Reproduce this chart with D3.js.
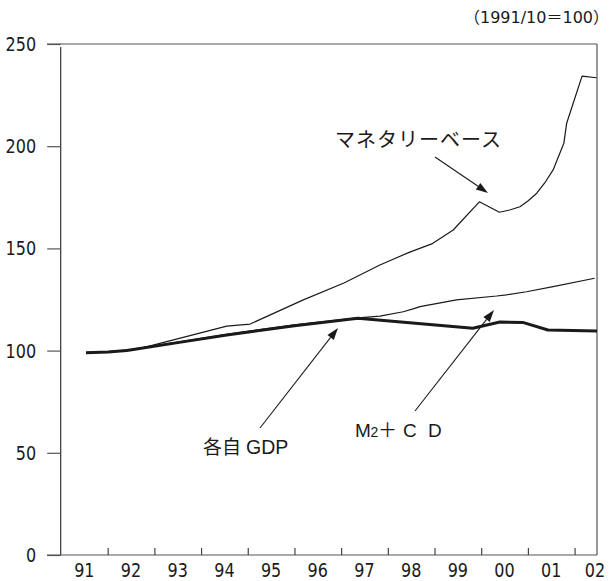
<!DOCTYPE html>
<html><head><meta charset="utf-8">
<script src="https://cdn.jsdelivr.net/npm/d3@7"></script>
<style>body{margin:0;background:#fff}svg{display:block}</style>
</head><body>
<svg id="c" width="611" height="581"></svg>
<script>
// fiscal-year time axis (decimal), index 1991/10 = 100
const yearLabels = ["91","92","93","94","95","96","97","98","99","00","01","02"];
const yTicks = [0, 50, 100, 150, 200, 250];

const gdpT = [1991.535, 1992.01, 1992.41, 1993.5, 1994.55, 1996.0, 1997.36, 1999.82, 2000.40, 2000.89, 2001.43, 2002.48];
const gdpV = [99.0, 99.3, 100.0, 103.9, 107.6, 112.2, 115.8, 110.9, 114.0, 113.8, 110.1, 109.6];

const m2T = [1991.535, 1992.01, 1992.41, 1993.5, 1994.55, 1996.0, 1997.36, 1997.83, 1998.33, 1998.54, 1998.69, 1999.47, 2000.33, 2000.54, 2000.97, 2001.54, 2002.43];
const m2V = [99.0, 99.4, 100.2, 104.2, 108.0, 112.6, 116.0, 116.9, 119.0, 120.4, 121.5, 124.8, 126.7, 127.3, 128.8, 131.3, 135.4];

const mbT = [1991.535, 1992.01, 1992.62, 1994.55, 1995.05, 1996.19, 1997.06, 1997.83, 1998.47, 1998.94, 1999.40, 1999.96, 2000.39, 2000.61, 2000.83, 2001.0, 2001.19, 2001.36, 2001.54, 2001.77, 2001.83, 2001.97, 2002.16, 2002.47];
const mbV = [99.0, 99.5, 100.6, 112.0, 113.0, 124.8, 133.1, 141.9, 148.2, 152.2, 159.0, 172.8, 167.7, 168.8, 170.4, 173.2, 177.0, 182.0, 188.4, 201.4, 211.2, 221.0, 234.3, 233.5];

const svg = d3.select("#c");
const x = d3.scaleLinear().domain([1991, 2002.48]).range([61, 597]);
const y = d3.scaleLinear().domain([0, 250]).range([555, 44]);
const numFont = "'DejaVu Sans', sans-serif";
const latFont = "'Liberation Sans', Arial, sans-serif";
const jpFont = "'Noto Sans CJK JP', sans-serif";
const digitW = 10.2;

// frame
svg.append("line").attr("x1", 47).attr("x2", 597).attr("y1", y(250)).attr("y2", y(250)).attr("stroke", "#555").attr("stroke-width", 1.2);
svg.append("line").attr("x1", 597).attr("x2", 597).attr("y1", y(250)).attr("y2", y(0)).attr("stroke", "#555").attr("stroke-width", 1.2);

// y axis
const yAxis = d3.axisLeft(y).tickValues(yTicks).tickSize(13.5).tickPadding(11);
const gy = svg.append("g").attr("transform", "translate(60.7,0)").call(yAxis);
gy.select(".domain").attr("d", `M0,${y(250)+3}V${y(0)}`).attr("stroke", "#333").attr("stroke-width", 1.2);
gy.selectAll(".tick line").attr("stroke", "#555").attr("stroke-width", 1.2);
gy.selectAll(".tick text").attr("font-family", numFont).attr("font-size", 19.5).attr("fill", "#1a1a1a").attr("dy", "0.33em")
  .attr("textLength", d => String(d).length * digitW).attr("lengthAdjust", "spacingAndGlyphs");

// x axis
const years = d3.range(1992, 2003);
const xAxis = d3.axisBottom(x).tickValues(years).tickSize(-7).tickFormat("");
const gx = svg.append("g").attr("transform", `translate(0,${y(0)})`).call(xAxis);
gx.select(".domain").attr("d", `M47,0H597`).attr("stroke", "#555").attr("stroke-width", 1.2);
gx.selectAll(".tick line").attr("stroke", "#444").attr("stroke-width", 1.2);
svg.append("g").selectAll("text").data(yearLabels).join("text")
  .attr("x", (d, i) => Math.min(x(1991 + i + 0.5), 595))
  .attr("y", 577).attr("text-anchor", "middle")
  .attr("font-family", numFont).attr("font-size", 19.5).attr("fill", "#1a1a1a")
  .attr("textLength", d => d.length * digitW).attr("lengthAdjust", "spacingAndGlyphs")
  .text(d => d);

// unit note
svg.append("text").attr("x", 609).attr("y", 23).attr("text-anchor", "end")
  .attr("font-family", "'DejaVu Sans', 'Noto Sans CJK JP', sans-serif").attr("font-size", 16).attr("fill", "#1a1a1a")
  .text("（1991/10＝100）");

// lines
const line = d3.line().x(d => x(d[0])).y(d => y(d[1]));
const series = [
  {t: mbT, v: mbV, w: 1.2},
  {t: m2T, v: m2V, w: 1.2},
  {t: gdpT, v: gdpV, w: 3}
];
series.forEach(s => {
  svg.append("path").datum(s.t.map((t, i) => [t, s.v[i]]))
    .attr("d", line).attr("fill", "none").attr("stroke", "#1a1a1a")
    .attr("stroke-width", s.w).attr("stroke-linejoin", "round");
});

// annotations with arrows
function arrow(x1, y1, x2, y2) {
  const ang = Math.atan2(y2 - y1, x2 - x1), L = 12, W = 4;
  const bx = x2 - L * Math.cos(ang), by = y2 - L * Math.sin(ang);
  svg.append("line").attr("x1", x1).attr("y1", y1).attr("x2", bx).attr("y2", by)
    .attr("stroke", "#1a1a1a").attr("stroke-width", 1.1);
  const px = -Math.sin(ang) * W, py = Math.cos(ang) * W;
  svg.append("path").attr("d", `M${x2},${y2}L${bx + px},${by + py}L${bx - px},${by - py}Z`).attr("fill", "#1a1a1a");
}
arrow(435, 157, 488, 193);
arrow(260, 428, 338, 328);
arrow(415, 411, 494, 310);

svg.append("text").attr("x", 335).attr("y", 147).attr("font-family", jpFont).attr("font-size", 20)
  .attr("letter-spacing", 1).attr("fill", "#1a1a1a").text("マネタリーベース");
const gd = svg.append("text").attr("y", 454).attr("fill", "#1a1a1a");
gd.append("tspan").attr("x", 203).attr("font-family", jpFont).attr("font-size", 19).text("各自");
gd.append("tspan").attr("x", 246).attr("font-family", latFont).attr("font-size", 19.5).text("GDP");
const m2 = svg.append("text").attr("y", 437).attr("fill", "#1a1a1a").attr("font-family", latFont);
m2.append("tspan").attr("x", 355).attr("font-size", 19).text("M");
m2.append("tspan").attr("x", 370.5).attr("font-size", 14).text("2");
m2.append("tspan").attr("x", 378).attr("font-family", jpFont).attr("font-size", 19).text("＋");
m2.append("tspan").attr("x", 403).attr("font-size", 19).text("C");
m2.append("tspan").attr("x", 428).attr("font-size", 19).text("D");
</script>
</body></html>
